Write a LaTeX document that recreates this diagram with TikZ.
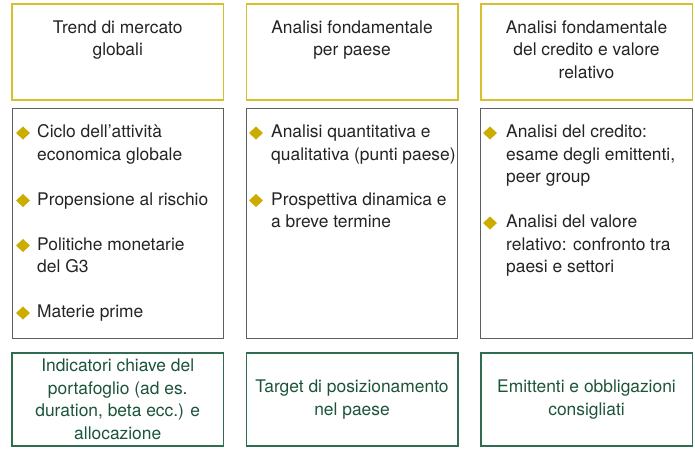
\documentclass[tikz,border=0pt]{standalone}
\usepackage{fontspec}
\setmainfont{TeX Gyre Heros}
\definecolor{gold}{RGB}{214,190,45}
\definecolor{bul}{RGB}{205,172,0}
\definecolor{midgray}{RGB}{95,95,95}
\definecolor{grn}{RGB}{48,108,80}
\definecolor{grntxt}{RGB}{28,84,58}
\definecolor{txt}{RGB}{35,35,35}
\newcommand\mybul[2]{\coordinate (#1) at (#2);
  \fill[bul] (#1) +(-7,0) -- +(0,-6.5) -- +(7,0) -- +(0,6.5) -- cycle;}
\begin{document}
\begin{tikzpicture}[x=1pt,y=-1pt,
  every node/.style={font=\fontsize{17.4}{22.5}\selectfont, inner sep=0pt},
  topbox/.style={draw=gold, line width=1.5pt, minimum width=211.5pt, minimum height=96pt},
  midbox/.style={draw=midgray, line width=1pt, minimum width=211.5pt, minimum height=230pt},
  botbox/.style={draw=grn, line width=1.5pt, minimum width=211.5pt, minimum height=93pt},
  toptext/.style={text=txt, align=center, anchor=north},
  bultext/.style={text=txt, align=left, anchor=north west},
  bottext/.style={text=grntxt, align=center}
]
\useasboundingbox (0,0) rectangle (695,448);

% top row
\node[topbox] (t1) at (117.75,52) {};
\node[topbox] (t2) at (352,52) {};
\node[topbox] (t3) at (586.5,52) {};
\node[toptext] (t1x) at (117.75,17.25) {\strut Trend di mercato\\globali};
\node[toptext] (t2x) at (352,17.25) {\strut Analisi fondamentale\\per paese};
\node[toptext] (t3x) at (586.5,17.25) {\strut Analisi fondamentale\\del credito e valore\\relativo};

% middle row
\node[midbox] (m1) at (117.75,223) {};
\node[midbox] (m2) at (352,223) {};
\node[midbox] (m3) at (586.5,223) {};

% column 1 bullets
\mybul{d11}{23,133}
\node[bultext] (b11) at (37,121.75) {\strut Ciclo dell’attività\\economica globale};
\mybul{d12}{23,200.5}
\node[bultext] (b12) at (37,189.25) {\strut Propensione al rischio};
\mybul{d13}{23,245.5}
\node[bultext] (b13) at (37,234.25) {\strut Politiche monetarie\\del G3};
\mybul{d14}{23,313}
\node[bultext] (b14) at (37,301.75) {\strut Materie prime};

% column 2 bullets
\mybul{d21}{256,133}
\node[bultext] (b21) at (271,121.75) {\strut Analisi quantitativa e\\qualitativa (punti paese)};
\mybul{d22}{256,200.5}
\node[bultext] (b22) at (271,189.25) {\strut Prospettiva dinamica e\\a breve termine};

% column 3 bullets
\mybul{d31}{490,133}
\node[bultext] (b31) at (506,121.75) {\strut Analisi del credito:\\esame degli emittenti,\\peer group};
\mybul{d32}{490,223}
\node[bultext] (b32) at (506,211.75) {\strut Analisi del valore\\relativo: confronto tra\\paesi e settori};

% bottom row
\node[botbox] (g1) at (117.75,399.5) {};
\node[botbox] (g2) at (352,399.5) {};
\node[botbox] (g3) at (586.5,399.5) {};
\node[bottext] (g1x) at (117.75,399.5) {Indicatori chiave del\\portafoglio (ad es.\\duration, beta ecc.) e\\allocazione};
\node[bottext] (g2x) at (352,399.5) {Target di posizionamento\\nel paese};
\node[bottext] (g3x) at (586.5,399.5) {Emittenti e obbligazioni\\consigliati};
\end{tikzpicture}
\end{document}
